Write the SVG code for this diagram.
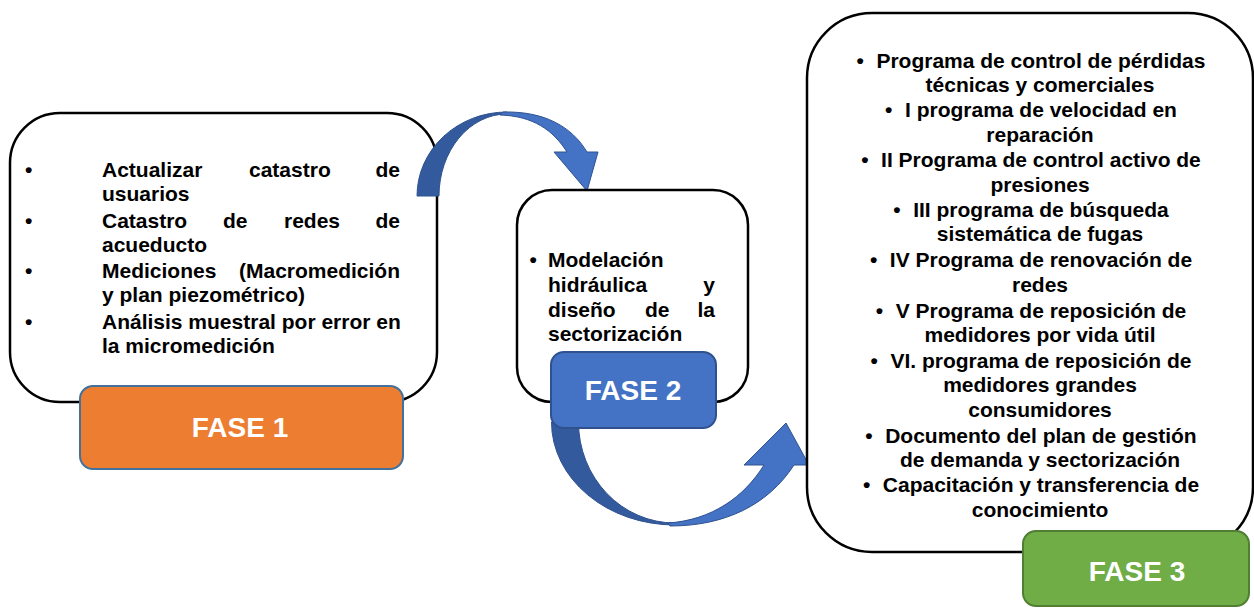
<svg xmlns="http://www.w3.org/2000/svg" width="1254" height="609" viewBox="0 0 1254 609">
<style>
.box{fill:#fff;stroke:#000;stroke-width:2.5}
.t{font-family:"Liberation Sans",Arial,sans-serif;font-weight:bold;font-size:21px;fill:#000}
.c{text-anchor:middle}
.e{text-anchor:end}
.ph{font-family:"Liberation Sans",Arial,sans-serif;font-weight:bold;font-size:28px;fill:#fff;text-anchor:middle}
.dark{fill:#335A9C;stroke:#2F528F;stroke-width:1}
.light{fill:#4472C4;stroke:#2F528F;stroke-width:1}
</style>
<rect width="1254" height="609" fill="#fff"/>
<g id="fase1">
<rect class="box" x="10" y="113" width="427" height="289" rx="50" ry="50"/>
<text class="t" x="25" y="177">•</text>
<text class="t" x="102" y="177">Actualizar</text>
<text class="t" x="249" y="177">catastro</text>
<text class="t e" x="400" y="177">de</text>
<text class="t" x="102" y="201">usuarios</text>
<text class="t" x="25" y="228">•</text>
<text class="t" x="102" y="228">Catastro</text>
<text class="t" x="223" y="228">de</text>
<text class="t" x="284" y="228">redes</text>
<text class="t e" x="400" y="228">de</text>
<text class="t" x="102" y="252">acueducto</text>
<text class="t" x="25" y="278">•</text>
<text class="t" x="102" y="278">Mediciones</text>
<text class="t e" x="400" y="278">(Macromedición</text>
<text class="t" x="102" y="302">y plan piezométrico)</text>
<text class="t" x="25" y="329">•</text>
<text class="t" x="102" y="329">Análisis muestral por error en</text>
<text class="t" x="102" y="353">la micromedición</text>
<rect x="80" y="386" width="323" height="83" rx="13" fill="#ED7D31" stroke="#41719C" stroke-width="2"/>
<text class="ph" x="240" y="437">FASE 1</text>
</g>
<g id="connectors">
<path class="dark" d="M417,196 A90,84 0 0 1 507,112 L507,114 A68,82 0 0 0 439,196 Z"/>
<path class="light" d="M503,112 C545,111 572,127 587,152 L598,152 L587,191 L554,152 L567,152 C553,130 533,116 500,115 Z"/>
<path class="dark" d="M551.5,422 A123.5,103 0 0 0 675,525 L675,523 A96.5,101 0 0 1 578.5,422 Z"/>
<path class="light" d="M670,526 C725,526 768,505 794,465 L809,465 L786,423 L744,465 L764,465 C744,497 712,520 668,523 Z"/>
</g>
<g id="fase2">
<rect class="box" x="517" y="190" width="231" height="212" rx="35" ry="35"/>
<text class="t" x="529.5" y="267">•</text>
<text class="t" x="548" y="267">Modelación</text>
<text class="t" x="548" y="292">hidráulica</text>
<text class="t e" x="715" y="292">y</text>
<text class="t" x="548" y="317">diseño</text>
<text class="t" x="645" y="317">de</text>
<text class="t e" x="715" y="317">la</text>
<text class="t" x="548" y="341">sectorización</text>
<rect x="551" y="352" width="165" height="76" rx="13" fill="#4472C4" stroke="#2F528F" stroke-width="2"/>
<text class="ph" x="633" y="400">FASE 2</text>
</g>
<g id="fase3">
<rect class="box" x="807" y="13" width="446" height="539" rx="65" ry="65"/>
<text class="t c" x="1031" y="68">•<tspan dx="12.5">Programa de control de pérdidas</tspan></text>
<text class="t c" x="1040" y="92">técnicas y comerciales</text>
<text class="t c" x="1031" y="117">•<tspan dx="12.5">I programa de velocidad en</tspan></text>
<text class="t c" x="1040" y="141.5">reparación</text>
<text class="t c" x="1031" y="167">•<tspan dx="12.5">II Programa de control activo de</tspan></text>
<text class="t c" x="1040" y="191.5">presiones</text>
<text class="t c" x="1031" y="217">•<tspan dx="12.5">III programa de búsqueda</tspan></text>
<text class="t c" x="1040" y="241">sistemática de fugas</text>
<text class="t c" x="1031" y="267">•<tspan dx="12.5">IV Programa de renovación de</tspan></text>
<text class="t c" x="1040" y="291.5">redes</text>
<text class="t c" x="1031" y="318">•<tspan dx="12.5">V Programa de reposición de</tspan></text>
<text class="t c" x="1040" y="342">medidores por vida útil</text>
<text class="t c" x="1031" y="368">•<tspan dx="12.5">VI. programa de reposición de</tspan></text>
<text class="t c" x="1040" y="392">medidores grandes</text>
<text class="t c" x="1040" y="417">consumidores</text>
<text class="t c" x="1031" y="443">•<tspan dx="12.5">Documento del plan de gestión</tspan></text>
<text class="t c" x="1040" y="467">de demanda y sectorización</text>
<text class="t c" x="1031" y="492">•<tspan dx="12.5">Capacitación y transferencia de</tspan></text>
<text class="t c" x="1040" y="517">conocimiento</text>
<rect x="1023" y="531" width="226" height="75" rx="13" fill="#70AD47" stroke="#507E32" stroke-width="2"/>
<text class="ph" x="1137" y="581">FASE 3</text>
</g>
</svg>
